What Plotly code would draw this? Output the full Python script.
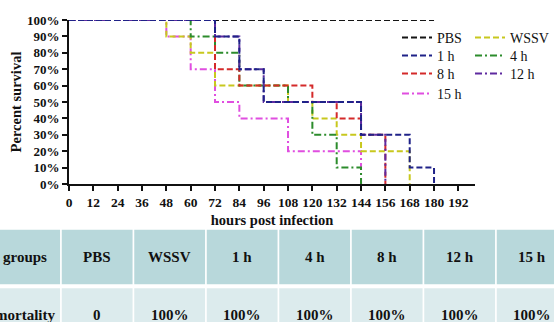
import plotly.graph_objects as go

# ---- data ----
# step-survival change points (hours, percent survival)
pbs_t = [0, 180]
pbs_s = [100, 100]
wssv_t = [0, 48, 60, 72, 108, 120, 132, 144, 168]
wssv_s = [100, 90, 80, 60, 50, 40, 30, 20, 0]
h1_t = [0, 72, 84, 96, 144, 168, 180]
h1_s = [100, 90, 70, 50, 30, 10, 0]
h4_t = [0, 60, 72, 84, 108, 120, 132, 144]
h4_s = [100, 90, 80, 60, 50, 30, 10, 0]
h8_t = [0, 72, 84, 120, 132, 144, 156]
h8_s = [100, 70, 60, 50, 40, 30, 0]
h12_t = [0, 72, 84, 96, 144, 156]
h12_s = [100, 90, 70, 50, 30, 0]
h15_t = [0, 48, 60, 72, 84, 108, 144]
h15_s = [100, 90, 70, 50, 40, 20, 0]

x_ticks = [0, 12, 24, 36, 48, 60, 72, 84, 96, 108, 120, 132, 144, 156, 168, 180, 192]
y_ticks = [0, 10, 20, 30, 40, 50, 60, 70, 80, 90, 100]

table_header = ["groups", "PBS", "WSSV", "1 h", "4 h", "8 h", "12 h", "15 h"]
table_mortality = ["mortality", "0", "100%", "100%", "100%", "100%", "100%", "100%"]

# ---- geometry ----
W, H = 554, 322
ML, MR, MT, MB = 69, 79, 20, 138
PW, PH = W - ML - MR, H - MT - MB

def px(x):
    return (x - ML) / PW

def py(y):
    return (H - MB - y) / PH

SERIF = "Liberation Serif, Times New Roman, serif"
DASH = "6px,3px"
DASHDOT = "7px,3px,2px,3px"

# name, t, s, color, dash, legend-box left (px), legend-box top (px)
series = [
    ("PBS", pbs_t, pbs_s, "#151515", DASH, 397, 22),
    ("15 h", h15_t, h15_s, "#e04ee0", DASHDOT, 397, 78),
    ("WSSV", wssv_t, wssv_s, "#c8c81e", DASH, 470, 22),
    ("4 h", h4_t, h4_s, "#2c8c2c", DASHDOT, 470, 40),
    ("8 h", h8_t, h8_s, "#d42a2a", DASH, 397, 58),
    ("12 h", h12_t, h12_s, "#5e2aa0", DASHDOT, 470, 58),
    ("1 h", h1_t, h1_s, "#1f2288", DASH, 397, 40),
]

fig = go.Figure()
legend_layout = {}
for i, (name, t, s, color, dash, lx, ly) in enumerate(series):
    key = "legend" if i == 0 else f"legend{i + 1}"
    fig.add_trace(go.Scatter(
        x=t, y=s, name=name, mode="lines", line_shape="hv",
        line=dict(color=color, width=2, dash=dash),
        legend=key,
    ))
    legend_layout[key] = dict(x=px(lx), y=py(ly), xanchor="left", yanchor="top",
                              bgcolor="rgba(0,0,0,0)", font=dict(size=14, family=SERIF, color="#111"),
                              itemwidth=30)

fig.update_layout(
    width=W, height=H,
    margin=dict(l=ML, r=MR, t=MT, b=MB, pad=0, autoexpand=False),
    paper_bgcolor="white", plot_bgcolor="white",
    font=dict(family=SERIF, color="#111"),
    showlegend=True,
    **legend_layout,
)

fig.update_xaxes(
    range=[0, 200.2], tickvals=x_ticks, ticktext=[str(v) for v in x_ticks],
    showline=True, linecolor="#111", linewidth=1.6, mirror=False,
    ticks="outside", ticklen=5, tickwidth=1.6, tickcolor="#111",
    showgrid=False, zeroline=False,
    tickfont=dict(size=13.5, family=SERIF, weight="bold"),
    title=dict(text="<b>hours post infection</b>", font=dict(size=14.5, family=SERIF), standoff=6),
)
fig.update_yaxes(
    range=[0, 100], tickvals=y_ticks, ticktext=[f"{v}%" for v in y_ticks],
    showline=True, linecolor="#111", linewidth=1.6,
    ticks="outside", ticklen=5, tickwidth=1.6, tickcolor="#111",
    showgrid=False, zeroline=False,
    tickfont=dict(size=13, family=SERIF, weight="bold"),
    title=dict(text="<b>Percent survival</b>", font=dict(size=14.5, family=SERIF), standoff=2),
)

# ---- table below the chart ----
col_left = -12
first_w = 73
col_w = 72.5
head_top, head_bot = 229, 285
row_top, row_bot = 287.5, 343
head_fill = "#b8d8db"
row_fill = "#dcebed"

shapes = []
annotations = []
edges = [col_left, col_left + first_w]
for i in range(1, len(table_header)):
    edges.append(edges[-1] + col_w)

for i, (hdr, val) in enumerate(zip(table_header, table_mortality)):
    x0, x1 = edges[i], edges[i + 1]
    shapes.append(dict(type="rect", xref="paper", yref="paper",
                       x0=px(x0), x1=px(x1), y0=py(head_bot), y1=py(head_top),
                       fillcolor=head_fill, line=dict(color="white", width=1.5), layer="below"))
    shapes.append(dict(type="rect", xref="paper", yref="paper",
                       x0=px(x0), x1=px(x1), y0=py(row_bot), y1=py(row_top),
                       fillcolor=row_fill, line=dict(color="white", width=1.5), layer="below"))
    cx = (x0 + x1) / 2
    annotations.append(dict(xref="paper", yref="paper", x=px(cx), y=py((head_top + head_bot) / 2),
                            text=f"<b>{hdr}</b>", showarrow=False, xanchor="center", yanchor="middle",
                            font=dict(size=15, family=SERIF, color="#111")))
    annotations.append(dict(xref="paper", yref="paper", x=px(cx), y=py(315),
                            text=f"<b>{val}</b>", showarrow=False, xanchor="center", yanchor="middle",
                            font=dict(size=15, family=SERIF, color="#111")))

fig.update_layout(shapes=shapes, annotations=annotations)

fig.write_html(
    "out.html",
    config={"displayModeBar": False},
    post_script="document.body.style.margin='0';document.body.style.overflow='hidden';",
)
